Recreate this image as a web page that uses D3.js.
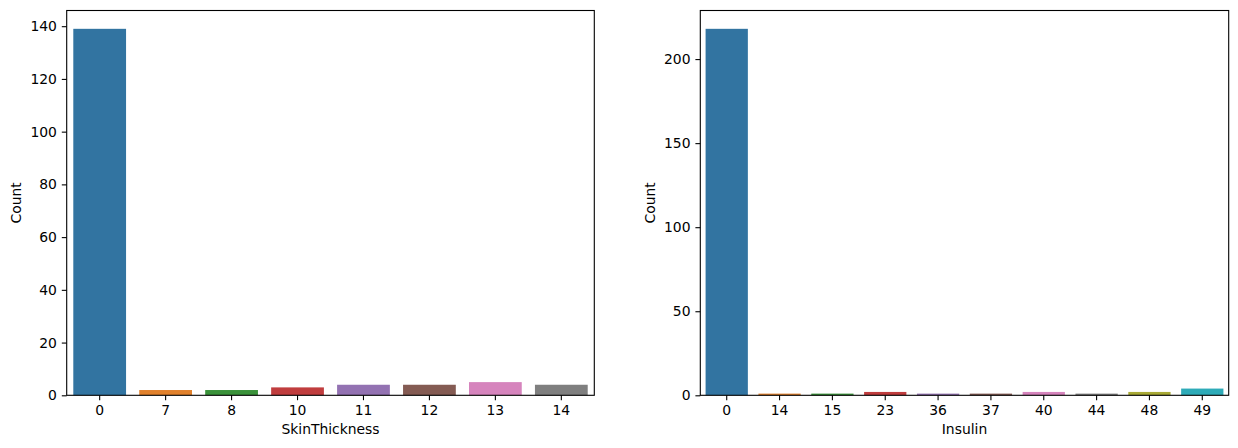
<!DOCTYPE html>
<html><head><meta charset="utf-8">
<script src="https://cdn.jsdelivr.net/npm/d3@7"></script>
<style>
html,body{margin:0;padding:0;background:#fff;}
svg{display:block;}
text{font-family:"DejaVu Sans",sans-serif;fill:#000;}
</style></head>
<body>
<svg id="chart" width="1238" height="448"></svg>
<script>
const skinCategories = ["0","7","8","10","11","12","13","14"];
const skinCounts = [139, 2, 2, 3, 4, 4, 5, 4];
const skinTicks = [0,20,40,60,80,100,120,140];

const insulinCategories = ["0","14","15","23","36","37","40","44","48","49"];
const insulinCounts = [218, 1, 1, 2, 1, 1, 2, 1, 2, 4];
const insulinTicks = [0,50,100,150,200];

const palette = ["#3274a1","#e1812c","#3a923a","#c03d3e","#9372b2","#845b53","#d684bd","#7f7f7f","#a9aa35","#2eabb8"];

const svg = d3.select("#chart");
const plotTop = 10.5, plotBottom = 395.3;
const fs = 13.9;

function panel(x0, x1, cats, vals, ticks, xlabel, ylabelX) {
  const g = svg.append("g");
  const x = d3.scaleBand().domain(cats).range([x0, x1]).paddingInner(0.2).paddingOuter(0.1);
  const ymax = d3.max(vals) * 1.05;
  const y = d3.scaleLinear().domain([0, ymax]).range([plotBottom, plotTop]);

  g.selectAll("rect.bar").data(cats).enter().append("rect")
    .attr("x", d => x(d))
    .attr("width", x.bandwidth())
    .attr("y", (d,i) => y(vals[i]))
    .attr("height", (d,i) => y(0) - y(vals[i]))
    .attr("fill", (d,i) => palette[i % palette.length]);

  const xa = g.append("g").attr("transform", `translate(0,${plotBottom})`)
    .call(d3.axisBottom(x).tickSize(4.9).tickPadding(4.9));
  xa.select(".domain").remove();
  xa.selectAll("line").attr("stroke", "#000").attr("stroke-width", 1.1);
  xa.selectAll("text").style("font-size", fs + "px").style("font-family", "DejaVu Sans").attr("fill", "#000");

  const ya = g.append("g").attr("transform", `translate(${x0},0)`)
    .call(d3.axisLeft(y).tickValues(ticks).tickSize(4.9).tickPadding(4.9).tickFormat(d3.format("d")));
  ya.select(".domain").remove();
  ya.selectAll("line").attr("stroke", "#000").attr("stroke-width", 1.1);
  ya.selectAll("text").style("font-size", fs + "px").style("font-family", "DejaVu Sans").attr("fill", "#000");

  g.append("rect").attr("x", x0).attr("y", plotTop).attr("width", x1 - x0).attr("height", plotBottom - plotTop)
    .attr("fill", "none").attr("stroke", "#000").attr("stroke-width", 1.1);

  g.append("text").attr("x", (x0 + x1) / 2).attr("y", 430).attr("text-anchor", "middle")
    .attr("dominant-baseline", "middle").style("font-size", fs + "px").text(xlabel);

  g.append("text").attr("transform", `translate(${ylabelX},${(plotTop + plotBottom) / 2}) rotate(-90)`)
    .attr("text-anchor", "middle").attr("dominant-baseline", "middle")
    .style("font-size", fs + "px").text("Count");
}

panel(66.7, 594.3, skinCategories, skinCounts, skinTicks, "SkinThickness", 16.5);
panel(700.3, 1228.7, insulinCategories, insulinCounts, insulinTicks, "Insulin", 650.5);
</script>
</body></html>
